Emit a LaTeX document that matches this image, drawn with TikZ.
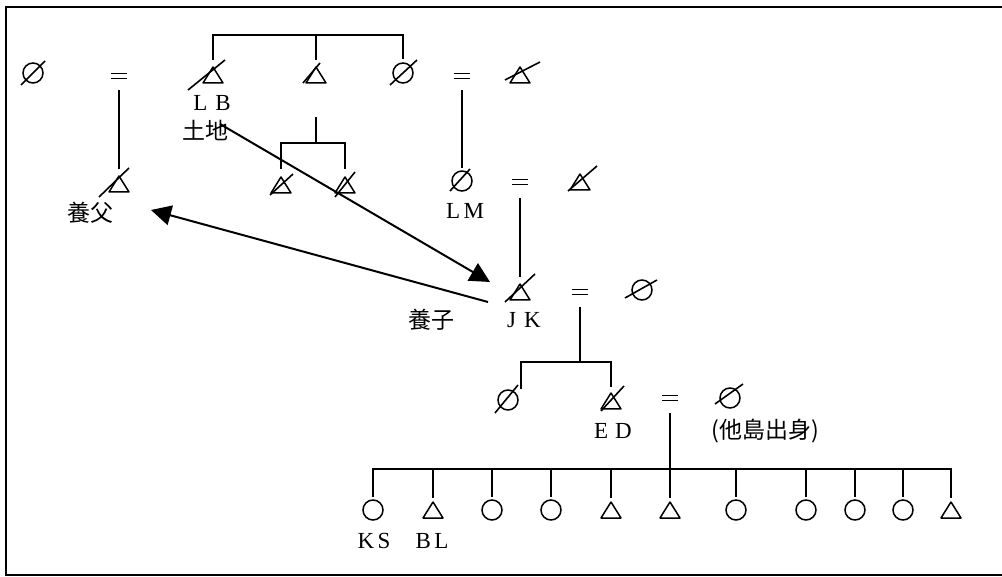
\documentclass[tikz,border=0pt]{standalone}
\usepackage{fontspec}
\setmainfont{Liberation Serif}
\newfontfamily\jfont{Noto Sans CJK JP}
\usetikzlibrary{arrows.meta,calc}

\begin{document}
\begin{tikzpicture}[x=1pt,y=-1pt,
  fem/.style={circle, draw, line width=1.5pt, minimum size=20pt, inner sep=0pt, outer sep=0pt},
  mal/.style={rectangle, minimum width=22pt, minimum height=18pt, inner sep=0pt, outer sep=0pt,
    path picture={\draw[line width=1.5pt, line join=round]
      ([shift={(1pt,1pt)}]path picture bounding box.south west) --
      ([shift={(-1pt,1pt)}]path picture bounding box.south east) --
      ([shift={(0pt,-1pt)}]path picture bounding box.north) -- cycle;}},
  marr/.style={rectangle, minimum width=16pt, minimum height=8pt, inner sep=0pt, outer sep=0pt,
    path picture={
      \draw[line width=1.1pt] ([yshift=2.2pt]path picture bounding box.west) -- ([yshift=2.2pt]path picture bounding box.east);
      \draw[line width=1.1pt] ([yshift=-2.2pt]path picture bounding box.west) -- ([yshift=-2.2pt]path picture bounding box.east);}},
  kin/.style={line width=2.6pt},
  slash/.style={line width=1.6pt},
  lab/.style={font=\fontsize{23}{23}\selectfont, inner sep=0pt},
  jlab/.style={font=\jfont\fontsize{23}{23}\selectfont, inner sep=0pt},
  link/.style={line width=2pt, -{Triangle[length=20pt,width=20pt]}},
]
\useasboundingbox (0,0) rectangle (1002,577);

% frame
\draw[line width=2.5pt] (1002,7) -- (6,7) -- (6,575) -- (1002,575);

% first generation
\node[fem]  (g1w)  at (33,73)  {};
\node[marr] (m1)   at (119,76) {};
\node[mal]  (lb)   at (213,75) {};
\node[mal]  (lbb)  at (316,75) {};
\node[fem]  (lbs)  at (403,73) {};
\node[marr] (m2)   at (462,76) {};
\node[mal]  (lbsh) at (520,75) {};

\coordinate (sib1) at (316,35);
\draw[kin, shorten <=6pt, shorten >=4pt] (lb.north) |- (sib1) -| (lbs.north);
\draw[kin, shorten >=6pt] (sib1) -- (lbb.north);

\node[lab]  (tLB)   at (212,103) {L\hspace{0.35em}B};
\node[jlab] (tLand) at (205,130) {土地};

% adoptive father
\node[mal] (yf) at (119,184) {};
\draw[kin, shorten <=10pt, shorten >=6pt] (m1.south) -- (yf.north);
\node[jlab] (tYF) at (90,213) {養父};

% children of the middle brother
\coordinate (d2) at (316,117);
\coordinate (g2) at (316,143);
\node[mal] (c21) at (281,185) {};
\node[mal] (c22) at (345,185) {};
\draw[kin] (d2) -- (g2);
\draw[kin, shorten <=7pt, shorten >=7pt] (c21.north) |- (g2) -| (c22.north);

% LM and husband
\node[fem]  (lm)  at (462,181) {};
\draw[kin, shorten <=10pt, shorten >=3pt] (m2.south) -- (lm.north);
\node[lab]  (tLM) at (465,211) {L\hspace{0.15em}M};
\node[marr] (m3)  at (520,182) {};
\node[mal]  (lmh) at (580,182) {};

% JK
\node[mal]  (jk)  at (520,292) {};
\draw[kin, shorten <=12pt, shorten >=6pt] (m3.south) -- (jk.north);
\node[lab]  (tJK) at (524,320) {J\hspace{0.35em}K};
\node[jlab] (tYS) at (431,320) {養子};
\node[marr] (m4)  at (580,292) {};
\node[fem]  (jkw) at (642,290) {};

% children of JK
\coordinate (g4) at (580,362);
\coordinate (edsT) at (521,389);
\draw[kin, shorten <=11pt] (m4.south) -- (g4);
\node[fem] (eds) at (508,400) {};
\node[mal] (ed)  at (611,401) {};
\draw[kin, shorten >=5pt] (edsT) |- (g4) -| (ed.north);
\node[lab]  (tED) at (613,431) {E\hspace{0.3em}D};
\node[marr] (m5)  at (670,398) {};
\node[fem]  (edw) at (730,398) {};
\node[jlab] (tIs) at (765,431) {(他島出身)};

% children of ED
\coordinate (g5) at (670,469);
\draw[kin, shorten <=11pt] (m5.south) -- (g5);
\foreach \i/\x/\s in {1/373/fem,2/433/mal,3/492/fem,4/551/fem,5/611/mal,6/670/mal,
                      7/736/fem,8/806/fem,9/855/fem,10/903/fem,11/951/mal}
  \node[\s] (k\i) at (\x,510) {};
\draw[kin, shorten <=3pt, shorten >=3pt] (k1.north) |- (g5) -| (k11.north);
\foreach \i in {2,...,10}
  \draw[kin, shorten >=3pt] (k\i.north |- g5) -- (k\i.north);
\node[lab] (tKS) at (374,541) {K\hspace{0.15em}S};
\node[lab] (tBL) at (432,541) {B\hspace{0.15em}L};

% slashes marking the deceased
\foreach \n/\a/\b/\c/\d in {g1w/-12/12/12/-12, lbs/-13/12/14/-13, lm/-12/10/8/-12,
    jkw/-17/8/15/-10, eds/-13/13/10/-15, edw/-15/6/13/-14,
    lb/-25/15/12/-15, lbb/-13/8/4/-12, lbsh/-15/5/20/-13, yf/-20/13/10/-16,
    c21/-11/10/12/-11, c22/-10/12/10/-13, lmh/-12/9/17/-16, jk/-15/10/15/-18, ed/-10/10/13/-15}
  \draw[slash] ($(\n.center)+(\a,\b)$) -- ($(\n.center)+(\c,\d)$);

% land transfer and adoption
\coordinate (aS) at (220,124);
\coordinate (aE) at (490,282);
\draw[link] (aS) -- (aE);
\coordinate (bS) at (488,302);
\coordinate (bE) at (151,210);
\draw[link] (bS) -- (bE);
\end{tikzpicture}
\end{document}
